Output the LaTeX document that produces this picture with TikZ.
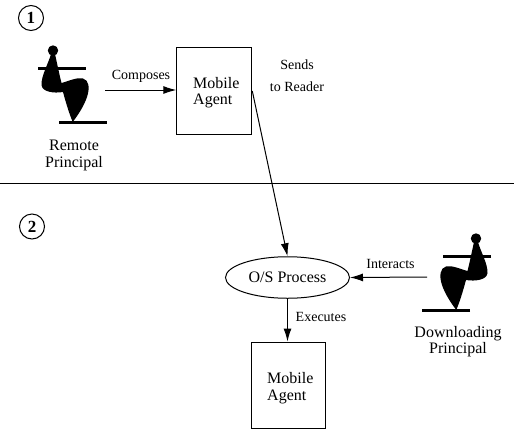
\documentclass[tikz,border=0pt]{standalone}
\usepackage{fontspec}
\setmainfont{Liberation Serif}
\usetikzlibrary{shapes.geometric,arrows.meta}
\tikzset{
  edge/.style={draw=black,line width=1pt,-{Latex[length=13pt,width=8pt]}},
  label/.style={inner sep=0pt,font=\fontsize{14}{16}\selectfont,align=center},
  big/.style={inner sep=0pt,font=\fontsize{16}{16.5}\selectfont,align=center},
  stepnum/.style={draw,circle,line width=1pt,minimum size=25pt,inner sep=0pt,font=\fontsize{17}{17}\selectfont\bfseries},
  boxn/.style={draw,line width=1pt,inner sep=0pt},
  boxtext/.style={inner sep=0pt,align=left,anchor=west,font=\fontsize{16}{16.5}\selectfont},
  person/.pic={
    \fill (53,50.5) circle (5.2);
    \fill (51,54) .. controls (49,62) and (41,76) .. (41.5,85) .. controls (42,92) and (54,93.5) .. (63,92) .. controls (66,103) and (69,113) .. (72.7,122) .. controls (78,115) and (84,106) .. (87,97) .. controls (90,88) and (89,80) .. (83,78.5) .. controls (77,77) and (69,81) .. (61.5,83) .. controls (59,73) and (57,63) .. (55,54) -- cycle;
    \draw[line width=3pt] (38,68) -- (86,68);
    \draw[line width=3pt] (59,122.5) -- (107,122.5);
  }
}
\begin{document}
\begin{tikzpicture}[x=1pt,y=-1pt]
\useasboundingbox (0,0) rectangle (514,429);
\node[stepnum] (n1) at (31,18) {1};
\node[stepnum] (n2) at (32,226.5) {2};
\pic at (0,0) {person};
\pic[xscale=-1] at (529,188) {person};
\node[big] (rp) at (74,155.5) {Remote\\Principal};
\node[big] (dp) at (458,341.5) {Downloading\\Principal};
\node[boxn,minimum width=75pt,minimum height=87pt] (ma1) at (214.3,90.5) {};
\node[boxn,minimum width=74pt,minimum height=86pt] (ma2) at (288.7,385) {};
\node[boxtext] (ma1t) at (193,92.5) {Mobile\\Agent};
\node[boxtext] (ma2t) at (267,388) {Mobile\\Agent};
\node[draw,ellipse,line width=1pt,minimum width=124pt,minimum height=41.5pt,inner sep=0pt,font=\fontsize{16}{16.5}\selectfont] (os) at (287.5,277.5) {O/S Process};
\coordinate (cl) at (105,90);
\coordinate (il) at (427,277);
\coordinate (hl) at (0,183.5);
\coordinate (hr) at (514,183.5);
\draw[line width=1pt] (hl) -- (hr);
\draw[edge] (cl) -- (ma1.west |- cl);
\draw[edge] (ma1.north east |- 0,91) -- (os.north);
\draw[edge] (il) -- (os.east);
\draw[edge] (os.south) -- (os.south |- ma2.north);
\node[label] (t1) at (141,76.5) {Composes};
\node[label] (t2) at (297,75.5) {Sends\\[6pt]to Reader};
\node[label] (t3) at (390.5,264) {Interacts};
\node[label] (t4) at (321,317) {Executes};
\end{tikzpicture}
\end{document}
